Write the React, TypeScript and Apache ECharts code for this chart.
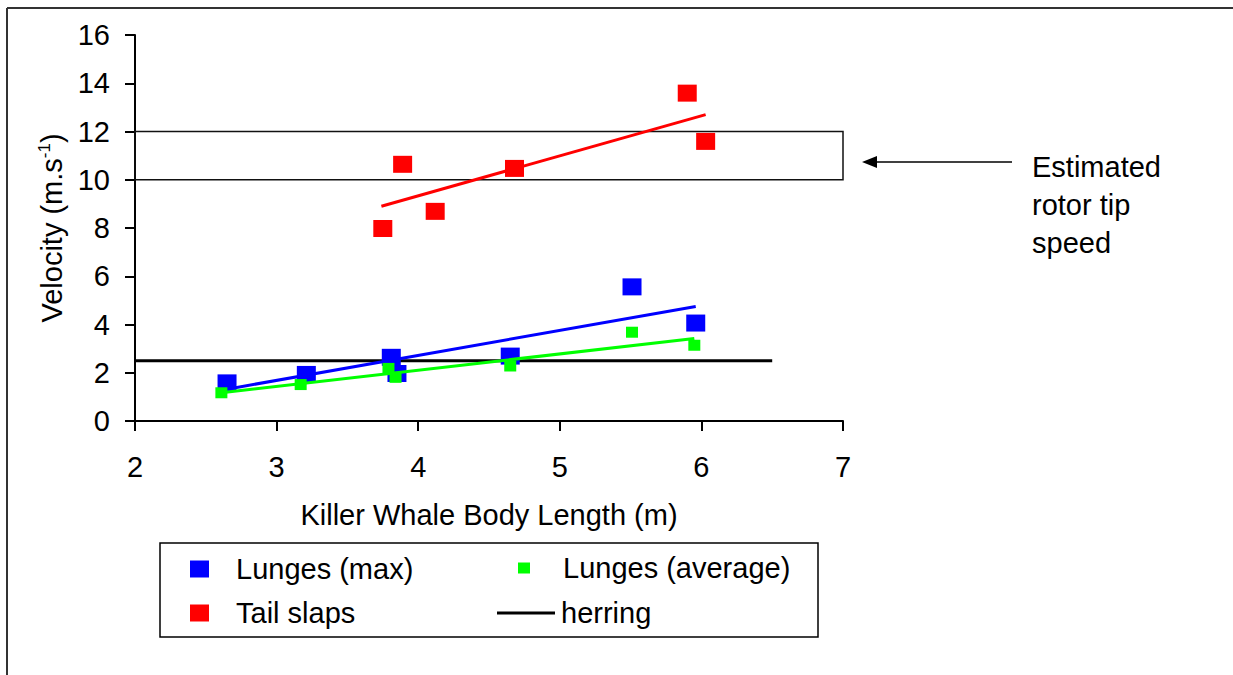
import React, { useEffect, useRef } from "react";
import * as echarts from "echarts";

// Body length (m) vs. velocity (m/s) for each behaviour
const lungesMax: [number, number][] = [
  [2.65, 1.58], [3.21, 1.93], [3.81, 2.64], [3.85, 1.97],
  [4.65, 2.69], [5.51, 5.56], [5.96, 4.06],
];
const lungesAvg: [number, number][] = [
  [2.61, 1.17], [3.17, 1.51], [3.79, 2.18], [3.84, 1.81],
  [4.65, 2.28], [5.51, 3.68], [5.95, 3.14],
];
const tailSlaps: [number, number][] = [
  [3.75, 7.98], [3.89, 10.64], [4.12, 8.69], [4.68, 10.47],
  [5.90, 13.59], [6.03, 11.59],
];
const herring: [number, number][] = [[2, 2.5], [6.5, 2.5]];

// Linear trend lines (end points)
const lungesMaxTrend: [number, number][] = [[2.65, 1.32], [5.96, 4.75]];
const lungesAvgTrend: [number, number][] = [[2.61, 1.17], [5.95, 3.42]];
const tailSlapsTrend: [number, number][] = [[3.74, 8.9], [6.03, 12.7]];

// Rotor tip speed band
const rotorBand = { x: [2, 7], y: [10, 12] };

const xTicks = { min: 2, max: 7, interval: 1 };
const yTicks = { min: 0, max: 16, interval: 2 };

const FONT = "'Liberation Sans', Arial, sans-serif";

export default function App() {
  const ref = useRef<HTMLDivElement>(null);

  useEffect(() => {
    if (!ref.current) return;
    const chart = echarts.init(ref.current, undefined, { renderer: "svg" });

    const legendText = (gap: number) => ({
      fontSize: 29,
      fontFamily: FONT,
      color: "#000",
      lineHeight: 30,
      padding: [0, 0, 0, gap],
    });

    chart.setOption({
      animation: false,
      backgroundColor: "#fff",
      textStyle: { fontFamily: FONT, color: "#000" },
      grid: { left: 135, right: 390, top: 35, bottom: 254 },
      xAxis: {
        type: "value",
        min: xTicks.min,
        max: xTicks.max,
        interval: xTicks.interval,
        name: "Killer Whale Body Length (m)",
        nameLocation: "middle",
        nameGap: 79,
        nameTextStyle: { fontSize: 29, fontFamily: FONT, color: "#000" },
        axisLine: { lineStyle: { color: "#000", width: 2 } },
        axisTick: { show: true, length: 10, lineStyle: { color: "#000", width: 2 } },
        axisLabel: { fontSize: 29, fontFamily: FONT, color: "#000", margin: 31 },
        splitLine: { show: false },
      },
      yAxis: {
        type: "value",
        min: yTicks.min,
        max: yTicks.max,
        interval: yTicks.interval,
        name: "{a|Velocity (m.s}{b|-1}{a|)}",
        nameLocation: "middle",
        nameRotate: 90,
        nameGap: 66,
        nameTextStyle: {
          fontSize: 29,
          fontFamily: FONT,
          color: "#000",
          rich: {
            a: { fontSize: 29, fontFamily: FONT, color: "#000", lineHeight: 32 },
            b: { fontSize: 17, fontFamily: FONT, color: "#000", verticalAlign: "top" },
          },
        },
        axisLine: { show: true, lineStyle: { color: "#000", width: 2 } },
        axisTick: { show: true, length: 10, lineStyle: { color: "#000", width: 2 } },
        axisLabel: { fontSize: 29, fontFamily: FONT, color: "#000", margin: 25 },
        splitLine: { show: false },
      },
      legend: [
        {
          data: ["Lunges (max)", "Tail slaps"],
          orient: "vertical",
          left: 190,
          top: 554,
          itemWidth: 19,
          itemHeight: 17,
          itemGap: 14,
          textStyle: legendText(22),
          selectedMode: false,
          icon: "rect",
          padding: 0,
        },
        {
          data: ["Lunges (average)"],
          orient: "vertical",
          left: 518,
          top: 553,
          itemWidth: 12,
          itemHeight: 11,
          textStyle: legendText(28),
          selectedMode: false,
          icon: "rect",
          padding: 0,
        },
        {
          data: [{ name: "herring", icon: "rect" }],
          orient: "vertical",
          left: 497,
          top: 598,
          itemWidth: 58,
          itemHeight: 3,
          textStyle: legendText(1),
          selectedMode: false,
          padding: 0,
        },
      ],
      series: [
        {
          name: "Lunges (max)",
          type: "scatter",
          symbol: "rect",
          symbolSize: [19, 17],
          itemStyle: { color: "#0000ff", opacity: 1 },
          data: lungesMax,
          z: 3,
        },
        {
          name: "Lunges (max) trend",
          type: "line",
          data: lungesMaxTrend,
          symbol: "none",
          lineStyle: { color: "#0000ff", width: 3 },
          z: 4,
        },
        {
          name: "Lunges (average)",
          type: "scatter",
          symbol: "rect",
          symbolSize: [12, 11],
          itemStyle: { color: "#00ff00", opacity: 1 },
          data: lungesAvg,
          z: 5,
        },
        {
          name: "Lunges (average) trend",
          type: "line",
          data: lungesAvgTrend,
          symbol: "none",
          lineStyle: { color: "#00ff00", width: 3 },
          z: 6,
        },
        {
          name: "Tail slaps",
          type: "scatter",
          symbol: "rect",
          symbolSize: [19, 17],
          itemStyle: { color: "#ff0000", opacity: 1 },
          data: tailSlaps,
          z: 3,
        },
        {
          name: "Tail slaps trend",
          type: "line",
          data: tailSlapsTrend,
          symbol: "none",
          lineStyle: { color: "#ff0000", width: 3 },
          z: 4,
        },
        {
          name: "herring",
          type: "line",
          data: herring,
          symbol: "none",
          lineStyle: { color: "#000", width: 3 },
          itemStyle: { color: "#000" },
          z: 2,
          markArea: {
            silent: true,
            itemStyle: { color: "rgba(0,0,0,0)", borderColor: "#111", borderWidth: 1.5 },
            data: [
              [
                { coord: [rotorBand.x[0], rotorBand.y[1]] },
                { coord: [rotorBand.x[1], rotorBand.y[0]] },
              ],
            ],
          },
        },
      ],
      graphic: [
        // outer frame
        { type: "line", shape: { x1: 7, y1: 8, x2: 1233, y2: 8 }, style: { stroke: "#333", lineWidth: 2 }, silent: true },
        { type: "line", shape: { x1: 7, y1: 8, x2: 7, y2: 675 }, style: { stroke: "#333", lineWidth: 2 }, silent: true },
        // legend box
        {
          type: "rect",
          shape: { x: 160, y: 543, width: 658, height: 94 },
          style: { fill: "none", stroke: "#000", lineWidth: 1.5 },
          silent: true,
          z: -1,
        },
        // arrow pointing at the rotor band
        { type: "line", shape: { x1: 876, y1: 162, x2: 1012, y2: 162 }, style: { stroke: "#000", lineWidth: 1.5 }, silent: true },
        {
          type: "polygon",
          shape: { points: [[862, 162], [877, 156], [877, 168]] },
          style: { fill: "#000" },
          silent: true,
        },
        {
          type: "text",
          x: 1032,
          y: 148,
          style: {
            text: "Estimated\nrotor tip\nspeed",
            fontSize: 29,
            fontFamily: FONT,
            lineHeight: 38,
            fill: "#000",
            align: "left",
            verticalAlign: "top",
          },
          silent: true,
        },
      ],
    });

    return () => chart.dispose();
  }, []);

  return (
    <div
      ref={ref}
      style={{ position: "fixed", left: 0, top: 0, width: 1233, height: 675 }}
    />
  );
}
